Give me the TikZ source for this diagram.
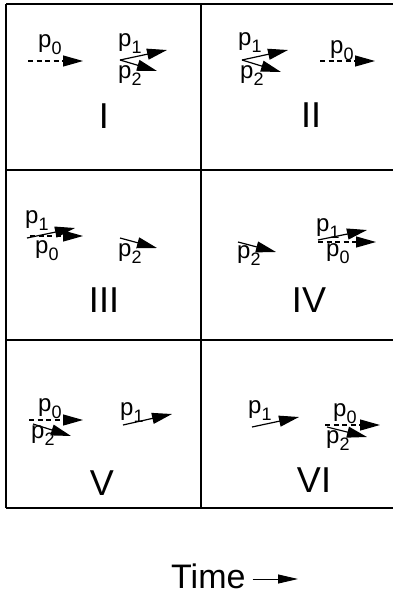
\documentclass[tikz,border=0pt]{standalone}
\usepackage{fontspec}
\setmainfont{Liberation Sans}
\usetikzlibrary{arrows.meta}

\newcommand{\plab}[1]{p\raisebox{-7.5pt}{\fontsize{18}{18}\selectfont #1}}

\begin{document}
\begin{tikzpicture}[x=1pt, y=-1pt,
  vec/.style={line width=1.2pt, -{Triangle[length=20pt, width=11pt]}},
  refvec/.style={line width=1.2pt, dash pattern=on 5pt off 3.5pt, -{Triangle[length=20pt, width=11pt, sep=5pt]}},
  lab/.style={anchor=north west, inner sep=0pt, font=\fontsize{24}{24}\selectfont},
  numeral/.style={inner sep=0pt, font=\fontsize{36}{36}\selectfont}]
  \useasboundingbox (0,0) rectangle (393,595);
  % Panel grid
  \foreach \y in {4, 170, 340, 508} {
    \draw[line width=1.3pt] (6,\y) -- (393,\y);
  }
  \foreach \x in {6, 201} {
    \draw[line width=1.3pt] (\x,4) -- (\x,508);
  }
  % Vector labels
  \foreach \x/\y/\s [count=\i] in {38/34/0, 118/33/1, 118/65/2,
      330/40/0, 238/32/1, 240/65/2,
      25/210/1, 35/240/0, 118/243/2,
      316/218/1, 326/243/0, 237/245/2,
      38/398/0, 120/402/1, 31/425/2,
      333/403/0, 248/400/1, 326/430/2} {
    \node[lab] (l\i) at (\x,\y) {\plab{\s}};
  }
  % Vectors (drawn over the labels)
  \foreach \xa/\ya/\xb/\yb/\st [count=\i] in {28/61/88/61/refvec, 120/60/167/50/vec, 120/60/157/71/vec,
      320/61/380/61/refvec, 242/60/288/50/vec, 242/60/281/72/vec,
      30/236/88/236/refvec, 27/238/75/228/vec, 120/238/157/248/vec,
      318/242/381/242/refvec, 318/240/367/230/vec, 238/242/276/252/vec,
      29/420/88/420/refvec, 123/425/172/414/vec, 33/424/71/436/vec,
      325/425/385/425/refvec, 252/427/299/417/vec, 327/427/367/437/vec} {
    \coordinate (s\i) at (\xa,\ya);
    \coordinate (e\i) at (\xb,\yb);
    \draw[\st] (s\i) -- (e\i);
  }
  % Panel numbers
  \foreach \x/\y/\n in {104/116/I, 311/115/II, 104/300/III, 309/300/IV, 102/483/V, 314/480/VI} {
    \node[numeral] (n\n) at (\x,\y) {\n};
  }
  % Time axis
  \node[anchor=base west, inner sep=0pt, font=\fontsize{34}{34}\selectfont] (time) at (171,588) {Time};
  \coordinate (tend) at (298,579);
  \draw[line width=0.9pt, -{Triangle[length=20pt, width=9pt]}] ([xshift=7pt]time.east |- tend) -- (tend);
\end{tikzpicture}
\end{document}
